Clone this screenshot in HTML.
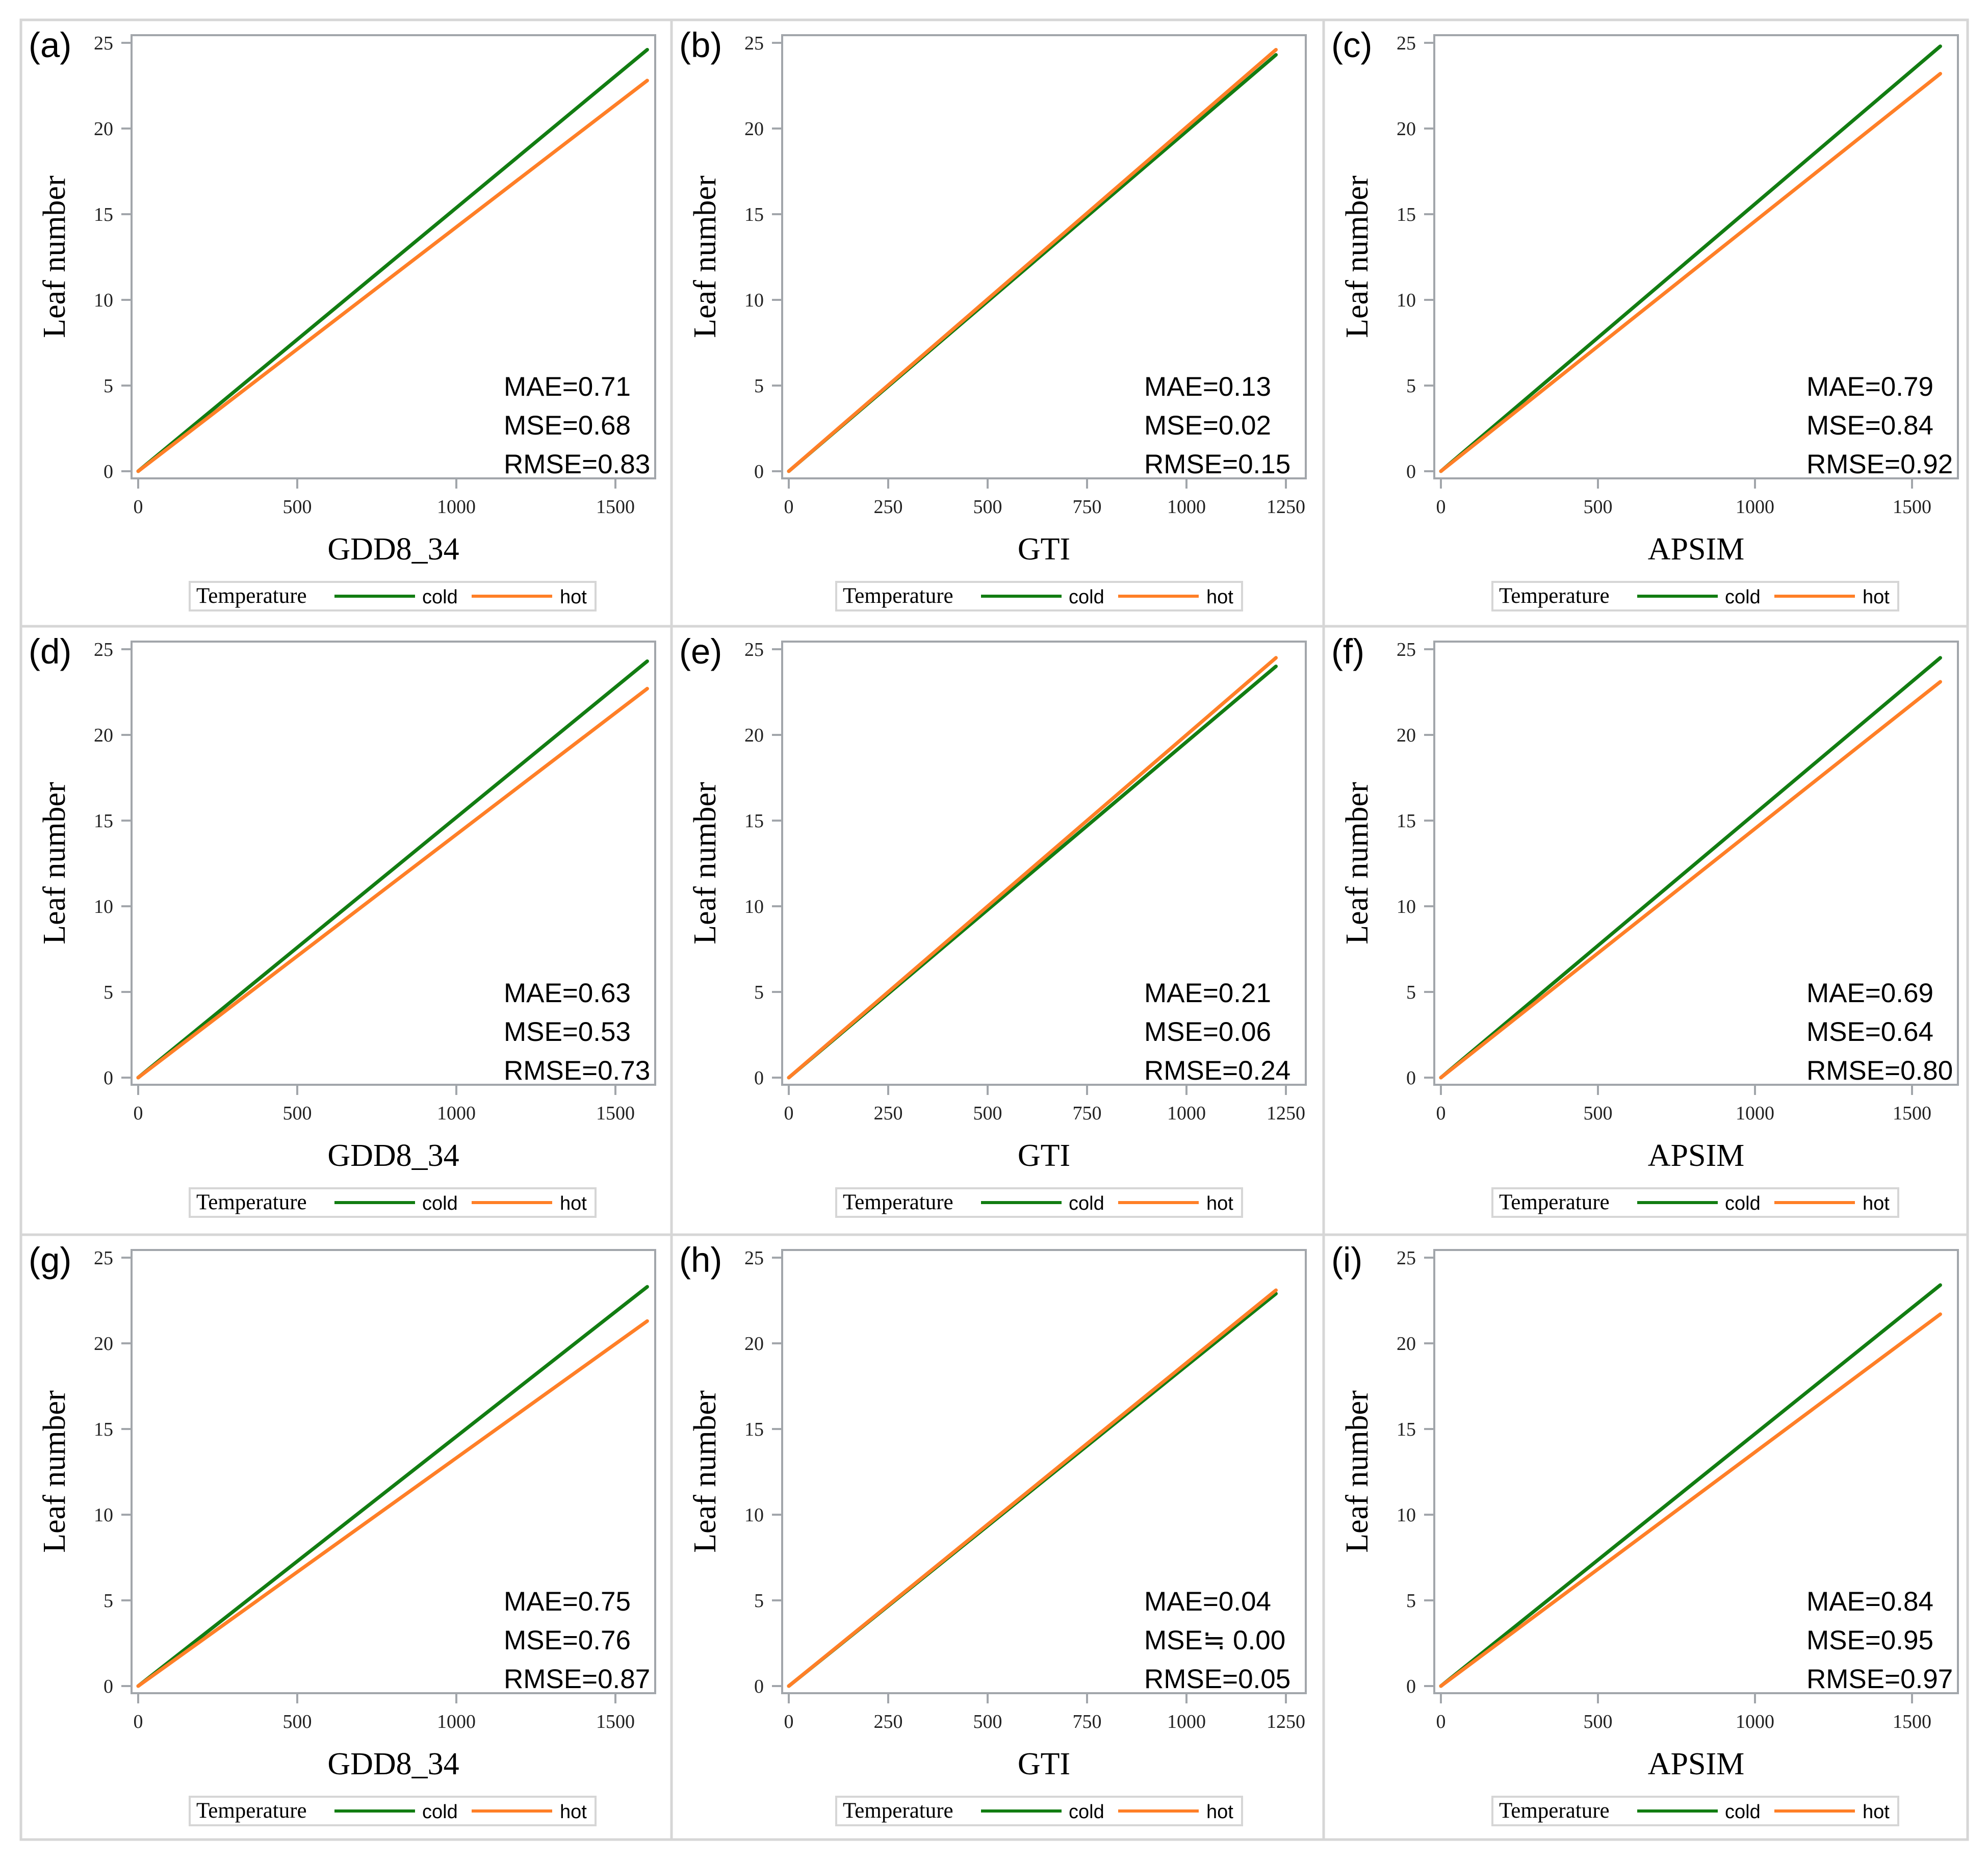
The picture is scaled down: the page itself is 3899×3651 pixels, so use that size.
<!DOCTYPE html>
<html><head><meta charset="utf-8">
<style>
html,body{margin:0;padding:0;background:#fff;}
svg{display:block;}
.tick{font-family:"Liberation Serif",serif;font-size:38px;fill:#222;}
.atitle{font-family:"Liberation Serif",serif;font-size:62px;fill:#000;}
.stat{font-family:"Liberation Sans","Noto Sans CJK JP",sans-serif;font-size:53px;fill:#000;}
.plab{font-family:"Liberation Sans",sans-serif;font-size:69px;fill:#000;}
.legser{font-family:"Liberation Serif",serif;font-size:43px;fill:#000;}
.legsan{font-family:"Liberation Sans",sans-serif;font-size:38px;fill:#000;}
</style></head>
<body>
<svg id="fig" width="3899" height="3651" viewBox="0 0 3899 3651" xmlns="http://www.w3.org/2000/svg"></svg>
<script>
// ---- data ----
const panelLabels = ["(a)","(b)","(c)","(d)","(e)","(f)","(g)","(h)","(i)"];
const xTitles = ["GDD8_34","GTI","APSIM"];
const xTicksGDD = [0,500,1000,1500];
const xTicksGTI = [0,250,500,750,1000,1250];
const xTicksAPSIM = [0,500,1000,1500];
const yTicks = [0,5,10,15,20,25];
const xEndGDD = 1600, xEndGTI = 1225, xEndAPSIM = 1590;
const coldEnd = [24.6,24.3,24.8, 24.3,24.0,24.5, 23.3,22.9,23.4];
const hotEnd  = [22.8,24.6,23.2, 22.7,24.5,23.1, 21.3,23.1,21.7];
const maeVals  = ["MAE=0.71","MAE=0.13","MAE=0.79","MAE=0.63","MAE=0.21","MAE=0.69","MAE=0.75","MAE=0.04","MAE=0.84"];
const mseVals  = ["MSE=0.68","MSE=0.02","MSE=0.84","MSE=0.53","MSE=0.06","MSE=0.64","MSE=0.76","MSE\u2252 0.00","MSE=0.95"];
const rmseVals = ["RMSE=0.83","RMSE=0.15","RMSE=0.92","RMSE=0.73","RMSE=0.24","RMSE=0.80","RMSE=0.87","RMSE=0.05","RMSE=0.97"];

const NS="http://www.w3.org/2000/svg";
const svg=document.getElementById('fig');
function mk(tag,attrs,parent,text){const e=document.createElementNS(NS,tag);for(const k in attrs)e.setAttribute(k,attrs[k]);if(text!==undefined)e.textContent=text;(parent||svg).appendChild(e);return e;}

const colX=[41,1317,2596], rowY=[39,1228,2421];
const CW=[1276,1279,1263], CH=[1189,1193,1186];
const statOff=[947,927,947];
const GREEN="#127d12", ORANGE="#ff7f27", AX="#a2a6ab", BORDER="#d6d6d6";

for(let r=0;r<3;r++)for(let c=0;c<3;c++){
  const i=r*3+c, X=colX[c], Y=rowY[r];
  const g=mk('g',{});
  
  
  const cell=mk('rect',{x:X,y:Y,width:CW[c],height:CH[r],fill:'none',stroke:BORDER,'stroke-width':5},g);
  
  
  const ticks = c===0?xTicksGDD:(c===1?xTicksGTI:xTicksAPSIM);
  const xEnd = c===0?xEndGDD:(c===1?xEndGTI:xEndAPSIM);
  const pxPer = c===0?312/500:(c===1?195/250:308/500);
  const x0=X+230;
  const xs=v=>x0+v*pxPer;
  const ys=v=>Y+885-v*(840/25);
  const pl=X+217, pr=X+1244, pt=Y+30, pb=Y+899;
  const frame=mk('rect',{x:pl,y:pt,width:pr-pl,height:pb-pt,fill:'none',stroke:AX,'stroke-width':4},g);
  
  
  yTicks.forEach(v=>{
    const t=mk('line',{x1:pl-20,x2:pl,y1:ys(v),y2:ys(v),stroke:AX,'stroke-width':4},g);
    
    
    const l=mk('text',{x:pl-36,y:ys(v)+13,'text-anchor':'end',class:'tick'},g,String(v));
    
    
  });
  ticks.forEach(v=>{
    const t=mk('line',{x1:xs(v),x2:xs(v),y1:pb,y2:pb+20,stroke:AX,'stroke-width':4},g);
    
    
    const l=mk('text',{x:xs(v),y:pb+68,'text-anchor':'middle',class:'tick'},g,String(v));
    
    
  });
  const sx=[0,xEnd];
  const cold=[0,coldEnd[i]], hot=[0,hotEnd[i]];
  const cl=mk('polyline',{points:sx.map((v,k)=>xs(v)+','+ys(cold[k])).join(' '),fill:'none',stroke:GREEN,'stroke-width':7,'stroke-linecap':'round'},g);
  
  
  const hl=mk('polyline',{points:sx.map((v,k)=>xs(v)+','+ys(hot[k])).join(' '),fill:'none',stroke:ORANGE,'stroke-width':7,'stroke-linecap':'round'},g);
  
  
  const sxp=X+statOff[c];
  const s1=mk('text',{x:sxp,y:Y+737,class:'stat'},g,maeVals[i]);
  
  
  const s2=mk('text',{x:sxp,y:Y+813,class:'stat'},g,mseVals[i]);
  
  
  const s3=mk('text',{x:sxp,y:Y+889,class:'stat'},g,rmseVals[i]);
  
  
  const pLab=mk('text',{x:X+15,y:Y+73,class:'plab'},g,panelLabels[i]);
  
  
  const yt=mk('text',{x:0,y:0,'text-anchor':'middle',class:'atitle',transform:`translate(${X+86},${(pt+pb)/2}) rotate(-90)`},g,'Leaf number');
  
  
  const xt=mk('text',{x:(pl+pr)/2,y:Y+1058,'text-anchor':'middle',class:'atitle'},g,xTitles[c]);
  
  
  const lx=X+(c===1?323:331), ly=Y+1102;
  const lg=mk('g',{},g);
  
  
  mk('rect',{x:lx,y:ly,width:796,height:56,fill:'#fff',stroke:BORDER,'stroke-width':4},lg);
  const lt=mk('text',{x:lx+13,y:ly+41,class:'legser'},lg,'Temperature');
  
  
  const lc=mk('line',{x1:lx+284,x2:lx+442,y1:ly+28,y2:ly+28,stroke:GREEN,'stroke-width':6},lg);
  
  
  const lct=mk('text',{x:lx+456,y:ly+42,class:'legsan'},lg,'cold');
  
  
  const lh=mk('line',{x1:lx+553,x2:lx+711,y1:ly+28,y2:ly+28,stroke:ORANGE,'stroke-width':6},lg);
  
  
  const lht=mk('text',{x:lx+726,y:ly+42,class:'legsan'},lg,'hot');
  
  
}
</script>
</body></html>
